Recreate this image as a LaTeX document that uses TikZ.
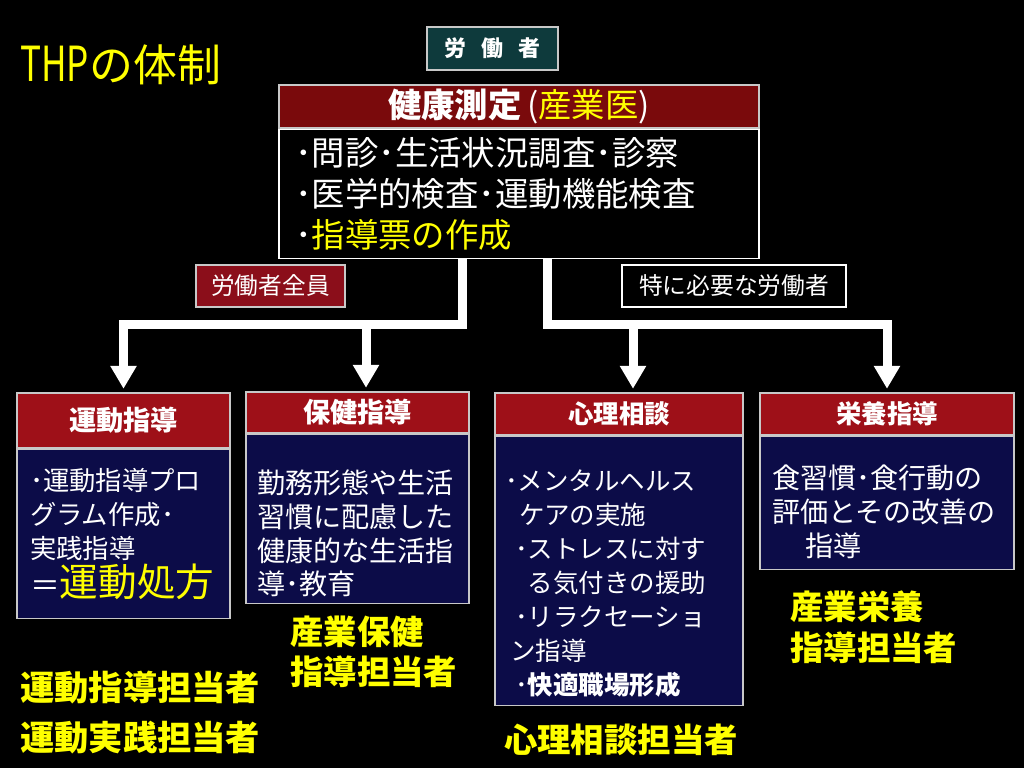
\documentclass[tikz,border=0pt]{standalone}
\usepackage{fontspec}
\setmainfont{Noto Sans CJK JP}
\usetikzlibrary{positioning, arrows.meta}
\definecolor{thpteal}{RGB}{14,58,60}
\definecolor{thpmaroon}{RGB}{122,10,12}
\definecolor{thpwine}{RGB}{139,14,26}
\definecolor{thpred}{RGB}{158,16,24}
\definecolor{thpnavy}{RGB}{12,12,72}
\definecolor{thpyellow}{RGB}{255,255,0}
\definecolor{thpframe}{RGB}{200,200,200}

\begin{document}
\begin{tikzpicture}[x=0.02cm, y=-0.02cm,
        framebox/.style={draw=thpframe, line width=0.8pt, text=white, inner sep=0pt},
        headbox/.style={framebox, fill=thpred, minimum height=0.84cm, font=\fontsize{15.5}{18}\selectfont\bfseries},
        bodybox/.style={framebox, fill=thpnavy, align=left, font=\fontsize{16}{19.3}\selectfont},
        tag/.style={text=thpyellow, inner sep=0pt, align=left, font=\fontsize{19}{23}\selectfont\bfseries},
        pipe/.style={draw=white, line width=0.18cm, -{Triangle[width=0.5cm,length=0.46cm]}, shorten >=2pt}
    ]
        \fill[black] (0,0) rectangle (1024,768);
        \useasboundingbox (0,0) rectangle (1024,768);

        % Title
        \node[anchor=west, text=thpyellow, inner sep=0pt, font=\fontsize{25}{30}\selectfont] (title) at (20,65) {\scalebox{0.8}[1.1]{THP}の体制};

        % Top
        \node[framebox, fill=thpteal, minimum width=2.62cm, minimum height=0.86cm, font=\fontsize{12.5}{15}\selectfont\bfseries] (worker) at (492.5,48.5) {労\hspace{0.7em}働\hspace{0.7em}者};
        \node[framebox, fill=thpmaroon, minimum width=9.6cm, minimum height=0.86cm, font=\fontsize{19}{23}\selectfont] (kenko) at (519,106.5) {\textbf{健康測定}\,(\textcolor{thpyellow}{産業医})};
        \node[framebox, fill=black, draw=white, below=0pt of kenko, minimum height=2.58cm, inner xsep=0.32cm, text width=8.96cm, align=left, font=\fontsize{19}{23.5}\selectfont] (kenkobody) {･問診･生活状況調査･診察\\･医学的検査･運動機能検査\\･\textcolor{thpyellow}{指導票の作成}};

        % Branch labels
        \node[framebox, fill=thpwine, minimum width=2.98cm, minimum height=0.84cm, font=\fontsize{13.5}{16}\selectfont] (allw) at (270.5,286) {労働者全員};
        \node[framebox, fill=black, draw=white, minimum width=4.48cm, minimum height=0.84cm, font=\fontsize{13.5}{16}\selectfont] (needw) at (734,286) {特に必要な労働者};

        % Boxes
        \node[headbox, minimum width=4.26cm, minimum height=1.1cm] (undohead) at (123.5,420.5) {運動指導};
        \node[bodybox, below=0pt of undohead, minimum width=4.26cm, minimum height=3.38cm, inner xsep=0.26cm, text width=3.74cm, font=\fontsize{15}{19.3}\selectfont] (undobody) {･運動指導プロ\\グラム作成･\\実践指導\\[1pt]\mbox{\fontsize{17}{25}\selectfont ＝\fontsize{22}{25}\selectfont\textcolor{thpyellow}{運動処方}}};

        \node[headbox, minimum width=4.46cm, minimum height=0.82cm] (hokenhead) at (357.5,412.5) {保健指導};
        \node[bodybox, below=0pt of hokenhead, minimum width=4.46cm, minimum height=3.38cm, inner xsep=0.22cm, text width=4.02cm] (hokenbody) {\rule{0pt}{30pt}勤務形態や生活\\習慣に配慮した\\健康的な生活指\\導･教育};

        \node[headbox, minimum width=4.96cm, font=\fontsize{14.5}{17}\selectfont\bfseries] (shinrihead) at (619,414) {心理相談};
        \node[bodybox, below=0pt of shinrihead, minimum width=4.96cm, minimum height=5.38cm, inner xsep=0.2cm, text width=4.56cm, font=\fontsize{14.5}{19.3}\selectfont] (shinribody) {\rule{0pt}{26pt}･メンタルヘルス\\\hspace{0.55em}ケアの実施\\\hspace{0.4em}･ストレスに対す\\\hspace{0.9em}る気付きの援助\\\hspace{0.4em}･リラクセーショ\\\hspace{0.2em}ン指導\\\hspace{0.4em}･\textbf{快適職場形成}};

        \node[headbox, minimum width=5.08cm, font=\fontsize{14.5}{17}\selectfont\bfseries] (eiyohead) at (887,414) {栄養指導};
        \node[bodybox, below=0pt of eiyohead, minimum width=5.08cm, minimum height=2.66cm, inner xsep=0.24cm, text width=4.6cm] (eiyobody) {\rule{0pt}{24pt}食習慣･食行動の\\評価とその改善の\\\hspace{1.2em}指導};

        % Arrows
        \coordinate (jL) at (462,324);
        \coordinate (jH) at (366,324);
        \coordinate (jR) at (547,324);
        \coordinate (jS) at (633,324);
        \draw[pipe] (kenkobody.south -| jL) -- (jL) -| (undohead.north);
        \draw[pipe] (jH) -- (jH |- hokenhead.north);
        \draw[pipe] (kenkobody.south -| jR) -- (jR) -| (eiyohead.north);
        \draw[pipe] (jS) -- (jS |- shinrihead.north);

        % Staff
        \node[tag, anchor=north west, font=\fontsize{19.5}{28.4}\selectfont\bfseries] (undotag) at (20,671) {運動指導担当者\\運動実践担当者};
        \node[tag, anchor=north west, font=\fontsize{19}{22.8}\selectfont\bfseries] (hokentag) at (290,616) {産業保健\\指導担当者};
        \node[tag] (shinritag) at (621,740) {心理相談担当者};
        \node[tag, anchor=north west, font=\fontsize{19}{23.3}\selectfont\bfseries] (eiyotag) at (790,590) {産業栄養\\指導担当者};

    \end{tikzpicture}
\end{document}
